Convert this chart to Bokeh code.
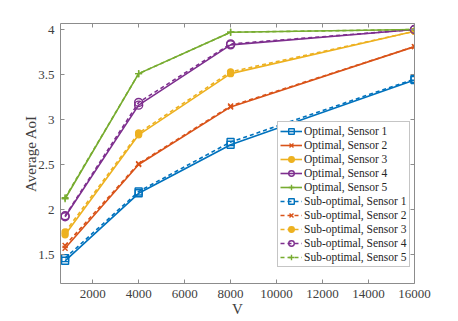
from bokeh.plotting import figure
from bokeh.models import LinearAxis, Range1d, Legend, LegendItem, FixedTicker, CustomJSTickFormatter
from bokeh.embed import file_html
from bokeh.resources import INLINE

V = [800, 4000, 8000, 16000]
opt = {
    1: [1.43, 2.18, 2.72, 3.44],
    2: [1.57, 2.50, 3.14, 3.81],
    3: [1.72, 2.83, 3.51, 3.98],
    4: [1.92, 3.16, 3.83, 4.00],
    5: [2.12, 3.51, 3.97, 4.00],
}
sub = {
    1: [1.46, 2.20, 2.75, 3.45],
    2: [1.60, 2.51, 3.15, 3.81],
    3: [1.75, 2.85, 3.53, 3.98],
    4: [1.93, 3.19, 3.84, 4.00],
    5: [2.13, 3.51, 3.97, 4.00],
}
colors = ["#0072BD", "#D95319", "#EDB120", "#7E2F8E", "#77AC30"]
markers = ["square", "x", "circle", "circle", "cross"]
fills = [None, None, "filled", None, None]
x_ticks = [2000, 4000, 6000, 8000, 10000, 12000, 14000, 16000]
y_ticks = [1.5, 2, 2.5, 3, 3.5, 4]

FONT = "Liberation Serif"
AXC = "#8c8c8c"
TXC = "#404040"

p = figure(width=454, height=317, frame_width=354, frame_height=260,
           output_backend="svg", toolbar_location=None,
           x_range=Range1d(600, 16000), y_range=Range1d(1.178, 4.067),
           min_border_left=60, min_border_top=23, min_border_right=40, min_border_bottom=34)
p.grid.visible = False
p.outline_line_color = None
p.background_fill_color = "white"

for ax in [p.xaxis[0], p.yaxis[0]]:
    ax.axis_line_color = AXC
    ax.major_tick_line_color = AXC
    ax.minor_tick_line_color = None
    ax.major_tick_in = 4
    ax.major_tick_out = 0
    ax.major_label_text_font = FONT
    ax.major_label_text_font_size = "13px"
    ax.major_label_text_color = TXC
    ax.axis_label_text_font = FONT
    ax.axis_label_text_font_size = "15px"
    ax.axis_label_text_font_style = "normal"
    ax.axis_label_text_color = TXC
p.xaxis[0].ticker = FixedTicker(ticks=x_ticks)
p.yaxis[0].ticker = FixedTicker(ticks=y_ticks)
p.xaxis[0].axis_label = "V"
p.yaxis[0].axis_label = "Average AoI"
p.xaxis[0].axis_label_standoff = 0
p.yaxis[0].axis_label_standoff = -4
p.xaxis[0].major_label_standoff = 6
p.yaxis[0].major_label_standoff = 6

blank = CustomJSTickFormatter(code="return ''")
top = LinearAxis(ticker=FixedTicker(ticks=x_ticks), formatter=blank,
                 axis_line_color=AXC, major_tick_line_color=AXC, minor_tick_line_color=None,
                 major_tick_in=4, major_tick_out=0, major_label_standoff=0)
right = LinearAxis(ticker=FixedTicker(ticks=y_ticks), formatter=blank,
                   axis_line_color=AXC, major_tick_line_color=AXC, minor_tick_line_color=None,
                   major_tick_in=4, major_tick_out=0, major_label_standoff=0)
p.add_layout(top, "above")
p.add_layout(right, "right")

items = []
def add_series(data, dash, label_prefix):
    for i in range(5):
        c = colors[i]
        ys = data[i + 1]
        ln = p.line(V, ys, line_color=c, line_width=1.6, line_dash=dash)
        m = markers[i]
        fc = c if fills[i] else "white"
        fa = 1.0 if fills[i] else 0.0
        size = 6 if fills[i] else (8 if m == "circle" else 7)
        sc = p.scatter(V, ys, marker=m, size=size, line_color=c, line_width=1.4,
                       fill_color=fc, fill_alpha=fa)
        items.append(LegendItem(label=f"{label_prefix}, Sensor {i+1}", renderers=[ln, sc]))

add_series(opt, "solid", "Optimal")
add_series(sub, "4 3", "Sub-optimal")

legend = Legend(items=items, location=(217, 16), label_text_font=FONT,
                label_text_font_size="11.5px", label_text_color="#262626",
                label_height=14, glyph_height=14, glyph_width=22, label_standoff=2,
                spacing=0, padding=2, margin=0, border_line_color=AXC,
                background_fill_color="white", background_fill_alpha=1.0)
p.add_layout(legend, "center")

open("out.html", "w").write(file_html(p, INLINE))
